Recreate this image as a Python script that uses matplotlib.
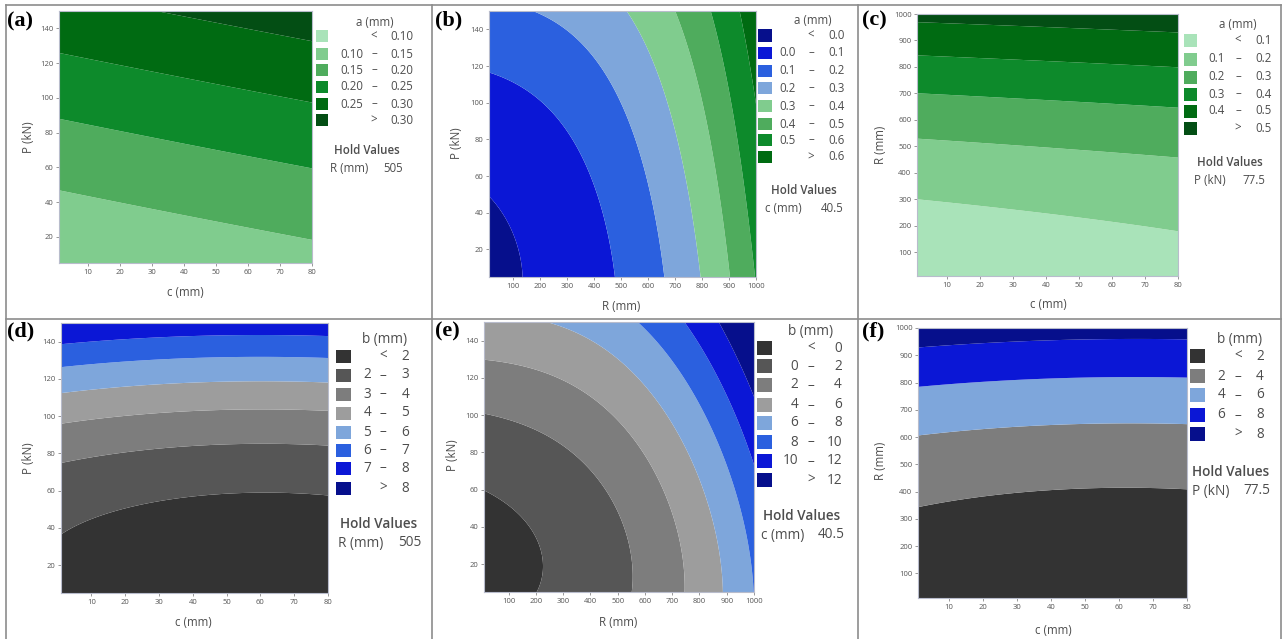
import numpy as np
import matplotlib
matplotlib.use("Agg")
import matplotlib.pyplot as plt
from matplotlib.patches import Rectangle
from matplotlib.lines import Line2D

W, H, DPI = 1283, 639, 100

# ---------------- factor ranges / hold values ----------------
C_RANGE = (1, 80)
P_RANGE = (5, 150)
R_RANGE = (10, 1000)
C_TICKS = [10, 20, 30, 40, 50, 60, 70, 80]
P_TICKS = [20, 40, 60, 80, 100, 120, 140]
R_TICKS = [100, 200, 300, 400, 500, 600, 700, 800, 900, 1000]

# ---------------- contour boundary points ----------------
# (a) a (mm) vs c, P   (R held at 505)
A_LEVELS = [0.10, 0.15, 0.20, 0.25, 0.30]
A_LABELS = ["0.10", "0.15", "0.20", "0.25", "0.30"]
A_X = [1, 40.4, 80, 1, 40.4, 80, 1, 40.4, 80, 33.7, 60.7, 80]
A_Y = [47.5, 32.6, 17.9, 87.5, 72.7, 59.4, 125.7, 111, 99.5, 150, 139.6, 131]
A_Z = [0.15, 0.15, 0.15, 0.20, 0.20, 0.20, 0.25, 0.25, 0.25, 0.30, 0.30, 0.30]

# (b) a (mm) vs R, P   (c held at 40.5)
B_LEVELS = [0.0, 0.1, 0.2, 0.3, 0.4, 0.5, 0.6]
B_LABELS = ["0.0", "0.1", "0.2", "0.3", "0.4", "0.5", "0.6"]
B_X = [16, 98, 132, 158, 180,
       16, 237, 329, 399, 458,
       252, 410, 530, 615, 636,
       501, 600, 700, 770, 784,
       680, 770, 855, 905, 926,
       819, 890, 945, 1000,
       951, 970, 1000]
B_Y = [33.6, 29.8, 25, 19.3, 5,
       112.5, 98, 81, 59, 5,
       150, 125, 80, 40, 5,
       150, 125, 80, 40, 5,
       150, 125, 80, 40, 5,
       150, 125, 80, 14.6,
       150, 110, 40]
B_Z = [0.0] * 5 + [0.1] * 5 + [0.2] * 5 + [0.3] * 5 + [0.4] * 5 + [0.5] * 4 + [0.6] * 3

# (c) a (mm) vs c, R   (P held at 77.5)
C_LEVELS = [0.1, 0.2, 0.3, 0.4, 0.5]
C_LABELS = ["0.1", "0.2", "0.3", "0.4", "0.5"]
C_X = [1, 40, 80, 1, 40, 80, 1, 40, 80, 1, 40, 80, 1, 40, 80]
C_Y = [299, 240, 183, 532, 498, 460, 700, 675, 643, 845, 822, 795, 967, 952, 933]
C_Z = [0.1, 0.1, 0.1, 0.2, 0.2, 0.2, 0.3, 0.3, 0.3, 0.4, 0.4, 0.4, 0.5, 0.5, 0.5]

# (d) b (mm) vs c, P   (R held at 505)
D_LEVELS = [2, 3, 4, 5, 6, 7, 8]
D_LABELS = ["2", "3", "4", "5", "6", "7", "8"]
D_X = [1, 40.7, 60, 80, 1, 40.7, 80, 1, 40.7, 80, 1, 40.7, 80, 1, 40.7, 80, 1, 40.7, 80]
D_Y = [36.2, 56.3, 58.7, 57.6, 75.6, 84.2, 84.6, 95.9, 102.6, 102.6,
       112, 117.9, 117.9, 126.1, 131.5, 131.5, 138.7, 143.2, 142.7]
D_Z = [2, 2, 2, 2, 3, 3, 3, 4, 4, 4, 5, 5, 5, 6, 6, 6, 7, 7, 7]

# (e) b (mm) vs R, P   (c held at 40.5)
E_LEVELS = [0, 2, 4, 6, 8, 10, 12]
E_LABELS = ["0", "2", "4", "6", "8", "10", "12"]
E_X = [10, 171, 238,
       10, 390, 547,
       10, 520, 732,
       286, 723, 882,
       539, 861, 1000,
       738, 901, 1000,
       882, 1000]
E_Y = [56, 41, 5,
       101.3, 73, 5,
       129.8, 93, 5,
       150, 92, 5,
       150, 92, 31.9,
       150, 114, 63.1,
       150, 104.9]
E_Z = [0, 0, 0, 2, 2, 2, 4, 4, 4, 6, 6, 6, 8, 8, 8, 10, 10, 10, 12, 12]

# (f) b (mm) vs c, R   (P held at 77.5)
F_LEVELS = [2, 4, 6, 8]
F_LABELS = ["2", "4", "6", "8"]
F_X = [1, 40, 55, 80, 1, 40, 80, 1, 40, 80, 1, 40, 80]
F_Y = [339, 408.5, 415, 408.5, 607, 644, 646, 787, 813, 817, 927, 955, 960]
F_Z = [2, 2, 2, 2, 4, 4, 4, 6, 6, 6, 8, 8, 8]

# ---------------- colours ----------------
G1, G2, G3, G4, G5, G6 = "#a9e3b9", "#80cc8e", "#4fac5d", "#0d8a2b", "#006b12", "#034e14"
NAVY, BRIGHT, MED, LBLUE = "#060f8c", "#0b17d6", "#2b60df", "#7ea6db"
K1, K2, K3, K4 = "#333333", "#565656", "#7d7d7d", "#9d9d9d"

TXT = "#4d4d4d"
FONT = "Open Sans"
plt.rcParams["font.family"] = [FONT, "DejaVu Sans"]

QUAD = [(0, 0), (1, 0), (0, 1), (2, 0), (0, 2), (1, 1)]
CUBIC = [(i, j) for i in range(4) for j in range(4 - i)]
B_TERMS = QUAD + [(3, 0), (1, 2)]


def fx(x):
    return x / W


def fy(y):
    return 1 - y / H


def design(u, v, terms):
    return np.stack([(u ** i) * (v ** j) for i, j in terms], axis=-1)


def norm(a, r):
    a = np.asarray(a, dtype=float)
    return (2 * a - (r[0] + r[1])) / (r[1] - r[0])


def surface(xs, ys, zs, xr, yr, terms, n=300):
    A = design(norm(xs, xr), norm(ys, yr), terms)
    coef, *_ = np.linalg.lstsq(A, np.asarray(zs, float), rcond=None)
    gx = np.linspace(xr[0], xr[1], n)
    gy = np.linspace(yr[0], yr[1], n)
    X, Y = np.meshgrid(gx, gy)
    Z = design(norm(X, xr), norm(Y, yr), terms) @ coef
    return X, Y, Z


fig = plt.figure(figsize=(W / DPI, H / DPI), dpi=DPI)
fig.patch.set_facecolor("white")

panels = [
    dict(tag="(a)", tagxy=(7, 21), box=(59, 11, 312, 263), terms=QUAD,
         xs=A_X, ys=A_Y, zs=A_Z, xr=C_RANGE, yr=P_RANGE, xt=C_TICKS, yt=P_TICKS,
         levels=A_LEVELS, labels=A_LABELS, colors=[G1, G2, G3, G4, G5, G6],
         xlabel="c (mm)", xlab=(185, 293), ylabel="P (kN)", ylab=(29, 137),
         title="a (mm)", titlexy=(375, 22), sw=(316, 328), swh=11,
         rows=[36, 54, 70, 87, 104, 120], cols=(363, 374, 413), fs=8.3,
         hold=(367, 151), holdtxt=("R (mm)", "505"), holdx=(330, 403), holdy=168),
    dict(tag="(b)", tagxy=(435, 20), box=(489, 11, 756, 277), terms=B_TERMS,
         xs=B_X, ys=B_Y, zs=B_Z, xr=R_RANGE, yr=P_RANGE, xt=R_TICKS, yt=P_TICKS,
         levels=B_LEVELS, labels=B_LABELS,
         colors=[NAVY, BRIGHT, MED, LBLUE, G2, G3, G4, G5],
         xlabel="R (mm)", xlab=(621, 306), ylabel="P (kN)", ylab=(457, 143),
         title="a (mm)", titlexy=(813, 20), sw=(758, 772), swh=12.5,
         rows=[35.5, 53, 71, 88, 106, 124, 140, 157], cols=(796, 811, 845), fs=8.3,
         hold=(804, 190), holdtxt=("c (mm)", "40.5"), holdx=(765, 844), holdy=208),
    dict(tag="(c)", tagxy=(862, 20), box=(917, 14, 1178, 276), terms=QUAD,
         xs=C_X, ys=C_Y, zs=C_Z, xr=C_RANGE, yr=R_RANGE, xt=C_TICKS, yt=R_TICKS,
         levels=C_LEVELS, labels=C_LABELS, colors=[G1, G2, G3, G4, G5, G6],
         xlabel="c (mm)", xlab=(1048, 305), ylabel="R (mm)", ylab=(880, 145),
         title="a (mm)", titlexy=(1238, 24), sw=(1184, 1197), swh=13,
         rows=[40, 59, 77, 94, 111, 128], cols=(1225, 1238, 1272), fs=8.3,
         hold=(1230, 163), holdtxt=("P (kN)", "77.5"), holdx=(1194, 1265), holdy=181),
    dict(tag="(d)", tagxy=(7, 331), box=(61, 323, 328, 593), terms=QUAD,
         xs=D_X, ys=D_Y, zs=D_Z, xr=C_RANGE, yr=P_RANGE, xt=C_TICKS, yt=P_TICKS,
         levels=D_LEVELS, labels=D_LABELS,
         colors=[K1, K2, K3, K4, LBLUE, MED, BRIGHT, NAVY],
         xlabel="c (mm)", xlab=(193, 623), ylabel="P (kN)", ylab=(28, 458),
         title="b (mm)", titlexy=(385, 339), sw=(336, 351), swh=13,
         rows=[356, 375, 394, 413, 432, 450, 468, 488], cols=(371, 383, 409), fs=9.8,
         hold=(379, 524), holdtxt=("R (mm)", "505"), holdx=(338, 421), holdy=543),
    dict(tag="(e)", tagxy=(435, 331), box=(484, 322, 754, 592), terms=CUBIC,
         xs=E_X, ys=E_Y, zs=E_Z, xr=R_RANGE, yr=P_RANGE, xt=R_TICKS, yt=P_TICKS,
         levels=E_LEVELS, labels=E_LABELS,
         colors=[K1, K2, K3, K4, LBLUE, MED, BRIGHT, NAVY],
         xlabel="R (mm)", xlab=(618, 623), ylabel="P (kN)", ylab=(453, 455),
         title="b (mm)", titlexy=(811, 331), sw=(757, 772), swh=13.5,
         rows=[348, 366, 385, 405, 423, 442, 461, 480], cols=(798, 811, 842), fs=9.8,
         hold=(802, 516), holdtxt=("c (mm)", "40.5"), holdx=(761, 845), holdy=535),
    dict(tag="(f)", tagxy=(862, 331), box=(918, 328, 1187, 598), terms=QUAD,
         xs=F_X, ys=F_Y, zs=F_Z, xr=C_RANGE, yr=R_RANGE, xt=C_TICKS, yt=R_TICKS,
         levels=F_LEVELS, labels=F_LABELS,
         colors=[K1, K3, LBLUE, BRIGHT, NAVY],
         xlabel="c (mm)", xlab=(1053, 630), ylabel="R (mm)", ylab=(880, 461),
         title="b (mm)", titlexy=(1240, 339), sw=(1190, 1205), swh=14,
         rows=[356, 376, 395, 415, 434], cols=(1225, 1238, 1264), fs=9.8,
         hold=(1231, 472), holdtxt=("P (kN)", "77.5"), holdx=(1192, 1270), holdy=491),
]

for p in panels:
    x0, y0, x1, y1 = p["box"]
    ax = fig.add_axes([fx(x0), fy(y1), (x1 - x0) / W, (y1 - y0) / H])
    X, Y, Z = surface(p["xs"], p["ys"], p["zs"], p["xr"], p["yr"], p["terms"])
    lv = [-1e9] + list(p["levels"]) + [1e9]
    ax.contourf(X, Y, Z, levels=lv, colors=p["colors"], antialiased=True)
    ax.set_xlim(*p["xr"])
    ax.set_ylim(*p["yr"])
    ax.set_xticks(p["xt"])
    ax.set_yticks(p["yt"])
    ax.tick_params(direction="out", length=2.5, width=0.6, colors="#888888",
                   labelsize=5.5, labelcolor="#555555", pad=1.5)
    for s in ax.spines.values():
        s.set_color("#b8bccc")
        s.set_linewidth(0.8)

    fig.text(fx(p["xlab"][0]), fy(p["xlab"][1]), p["xlabel"], ha="center", va="center",
             fontsize=8.3, color=TXT)
    fig.text(fx(p["ylab"][0]), fy(p["ylab"][1]), p["ylabel"], ha="center", va="center",
             fontsize=8.3, color=TXT, rotation=90)

    fig.text(fx(p["tagxy"][0]), fy(p["tagxy"][1]), p["tag"], ha="left", va="center",
             fontsize=16, fontweight="bold", family="Liberation Serif", color="black")

    fs = p["fs"]
    fig.text(fx(p["titlexy"][0]), fy(p["titlexy"][1]), p["title"], ha="center",
             va="center", fontsize=fs, color=TXT)
    sx0, sx1 = p["sw"]
    n = len(p["colors"])
    xl, xd, xr_ = p["cols"]
    for i in range(n):
        yc = p["rows"][i]
        h = p["swh"]
        fig.add_artist(Rectangle((fx(sx0), fy(yc + h / 2)), (sx1 - sx0) / W, h / H,
                                 transform=fig.transFigure, facecolor=p["colors"][i],
                                 edgecolor="none"))
        if i == 0:
            fig.text(fx(xd), fy(yc), "<", ha="center", va="center", fontsize=fs, color=TXT)
            fig.text(fx(xr_), fy(yc), p["labels"][0], ha="right", va="center",
                     fontsize=fs, color=TXT)
        elif i == n - 1:
            fig.text(fx(xd), fy(yc), ">", ha="center", va="center", fontsize=fs, color=TXT)
            fig.text(fx(xr_), fy(yc), p["labels"][-1], ha="right", va="center",
                     fontsize=fs, color=TXT)
        else:
            fig.text(fx(xl), fy(yc), p["labels"][i - 1], ha="right", va="center",
                     fontsize=fs, color=TXT)
            fig.text(fx(xd), fy(yc), "\u2013", ha="center", va="center",
                     fontsize=fs, color=TXT)
            fig.text(fx(xr_), fy(yc), p["labels"][i], ha="right", va="center",
                     fontsize=fs, color=TXT)
    fig.text(fx(p["hold"][0]), fy(p["hold"][1]), "Hold Values", ha="center",
             va="center", fontsize=fs, color=TXT, fontweight="semibold")
    fig.text(fx(p["holdx"][0]), fy(p["holdy"]), p["holdtxt"][0], ha="left",
             va="center", fontsize=fs, color=TXT)
    fig.text(fx(p["holdx"][1]), fy(p["holdy"]), p["holdtxt"][1], ha="right",
             va="center", fontsize=fs, color=TXT)

frame = "#8c8c8c"
for xv in (6, 432, 858, 1281):
    fig.add_artist(Line2D([fx(xv), fx(xv)], [fy(5), fy(639)], color=frame, lw=1.2,
                          transform=fig.transFigure))
for yv in (5, 319):
    fig.add_artist(Line2D([fx(6), fx(1281)], [fy(yv), fy(yv)], color=frame, lw=1.2,
                          transform=fig.transFigure))

fig.savefig("out.png", dpi=DPI, facecolor="white")
